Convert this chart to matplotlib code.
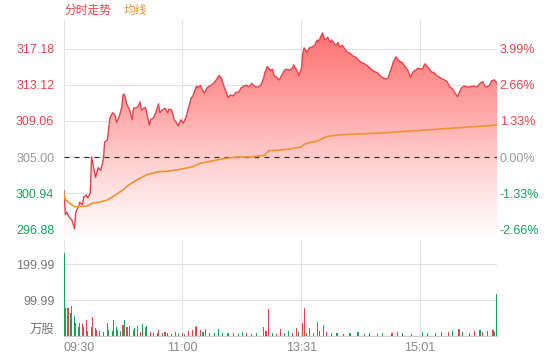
import numpy as np
import matplotlib
matplotlib.use("Agg")
import matplotlib.pyplot as plt

plt.rcParams['font.family'] = ['Liberation Sans', 'Noto Sans CJK SC']

# trading minutes since 09:30 (HK session, 330 minutes) and prices
price_t = [0, 1, 2, 4, 6, 8, 9, 11, 12, 14, 15, 17, 18, 20, 21, 23, 24, 26, 28, 30,
           31, 33, 35, 37, 39, 40, 42, 44, 45, 46, 48, 50, 52, 53, 56, 57, 58, 59, 62, 63,
           65, 66, 68, 70, 72, 73, 75, 77, 79, 80, 82, 84, 86, 87, 89, 91, 93, 95, 97, 98,
           101, 102, 104, 105, 107, 109, 111, 114, 117, 118, 120, 122, 124, 125, 127, 129, 131, 133, 135, 136,
           139, 141, 143, 146, 148, 150, 152, 153, 155, 157, 159, 160, 162, 164, 166, 168, 170, 172, 174, 175,
           178, 179, 181, 182, 183, 185, 187, 189, 191, 193, 194, 197, 198, 199, 201, 203, 204, 207, 209, 210,
           212, 214, 216, 218, 220, 223, 226, 228, 232, 235, 237, 239, 242, 245, 247, 249, 251, 253, 255, 258,
           261, 262, 264, 266, 268, 270, 273, 275, 277, 280, 282, 284, 287, 290, 292, 294, 296, 298, 300, 301,
           303, 305, 307, 309, 312, 315, 317, 319, 321, 322, 324, 326, 328, 330]
price = [301.2, 298.5, 298.8, 298.2, 297.9, 296.9, 298.8, 299.4, 299.9, 299.6, 300.5, 300.7, 300.4, 300.9, 305.0, 303.5, 302.7, 303.8, 303.5, 304.7,
         306.7, 306.9, 309.4, 310.0, 309.7, 308.9, 309.5, 310.6, 312.0, 312.1, 310.9, 310.3, 309.2, 310.5, 310.6, 310.9, 311.2, 310.3, 310.6, 310.0,
         308.6, 309.2, 309.4, 310.0, 311.0, 310.0, 310.3, 310.5, 310.0, 310.4, 310.3, 309.2, 308.8, 308.5, 309.2, 308.8, 309.5, 310.6, 311.7, 311.8,
         313.0, 312.8, 313.1, 312.7, 312.2, 312.8, 313.0, 313.3, 313.9, 314.2, 313.9, 312.9, 312.2, 311.7, 312.0, 311.9, 312.3, 312.3, 312.8, 312.9,
         313.1, 312.9, 313.3, 312.9, 312.9, 313.1, 313.8, 314.5, 315.2, 314.8, 314.9, 314.2, 314.0, 313.7, 314.2, 314.8, 314.9, 314.8, 315.0, 315.4,
         314.6, 314.2, 315.0, 316.7, 317.3, 316.8, 317.3, 317.4, 317.6, 318.2, 318.0, 319.0, 318.5, 318.2, 318.5, 317.9, 318.2, 317.6, 317.9, 317.4,
         317.6, 317.2, 316.8, 316.7, 316.4, 316.2, 315.7, 315.6, 315.2, 314.8, 314.6, 314.5, 314.0, 313.8, 313.9, 314.8, 315.7, 316.3, 315.9, 315.6,
         315.0, 314.8, 314.0, 314.6, 314.8, 315.0, 314.9, 315.5, 315.2, 314.6, 314.5, 314.2, 313.9, 313.7, 313.5, 312.9, 312.7, 312.2, 311.8, 312.2,
         312.8, 313.0, 312.9, 312.9, 313.0, 312.9, 313.3, 313.5, 312.9, 312.9, 313.0, 313.6, 313.7, 313.3]

avg_t = [0, 1, 5, 8, 12, 18, 22, 27, 33, 37, 41, 45, 49, 53, 58, 63, 71, 79, 88, 98,
         104, 111, 121, 132, 142, 153, 156, 165, 172, 180, 184, 193, 200, 210, 226, 241, 271, 330]
avg = [300.9, 300.2, 299.7, 299.4, 299.4, 299.5, 299.8, 299.9, 300.15, 300.5, 300.9, 301.3, 301.8, 302.2, 302.6, 303.0, 303.3, 303.4, 303.6, 303.9,
       304.3, 304.5, 304.8, 305.0, 305.0, 305.2, 305.7, 305.8, 305.9, 306.1, 306.5, 306.8, 307.3, 307.5, 307.6, 307.7, 308.0, 308.6]

# volume in 万股, 1 = up (red), 0 = down (green)
vol_t = [0, 1, 3, 5, 6, 8, 9, 11, 12, 14, 15, 17, 18, 21, 22, 24, 25, 27, 30, 33,
         34, 37, 38, 40, 41, 43, 45, 46, 48, 50, 53, 54, 56, 58, 60, 62, 63, 66, 68, 71,
         72, 75, 77, 79, 82, 85, 87, 90, 92, 95, 98, 100, 101, 104, 106, 108, 111, 115, 118, 121,
         125, 129, 133, 136, 139, 143, 147, 152, 154, 156, 159, 162, 165, 168, 171, 174, 177, 179, 182, 183,
         185, 187, 190, 193, 195, 198, 200, 204, 208, 213, 218, 224, 229, 233, 239, 243, 250, 254, 258, 265,
         273, 277, 283, 288, 293, 296, 301, 304, 309, 313, 317, 319, 323, 327, 328, 330]
vol = [230, 78, 78, 64, 83, 56, 36, 26, 37, 33, 24, 44, 15, 24, 52, 21, 17, 15, 12, 35,
       18, 15, 44, 24, 17, 15, 31, 44, 24, 28, 17, 21, 28, 12, 33, 24, 28, 12, 9, 7,
       17, 7, 12, 7, 5, 12, 5, 7, 5, 15, 17, 24, 28, 17, 12, 19, 9, 7, 19, 7,
       9, 7, 5, 12, 7, 5, 7, 26, 15, 74, 7, 5, 19, 7, 15, 7, 21, 12, 35, 77,
       9, 21, 7, 40, 15, 31, 12, 7, 9, 5, 7, 11, 5, 7, 5, 7, 9, 12, 7, 5,
       12, 9, 9, 12, 12, 15, 19, 12, 9, 15, 17, 12, 15, 17, 12, 117]
vol_up = [0, 0, 1, 0, 0, 0, 1, 0, 1, 1, 0, 1, 0, 1, 1, 0, 1, 1, 0, 1,
          0, 0, 1, 0, 1, 0, 1, 0, 1, 0, 1, 0, 1, 1, 0, 0, 0, 1, 0, 1,
          1, 0, 1, 0, 1, 1, 0, 1, 0, 1, 1, 1, 1, 1, 0, 0, 1, 0, 0, 0,
          0, 1, 0, 0, 1, 1, 0, 1, 1, 1, 0, 1, 1, 0, 0, 1, 1, 0, 1, 1,
          0, 1, 0, 1, 0, 0, 1, 0, 0, 1, 0, 0, 1, 0, 1, 0, 1, 1, 0, 1,
          0, 1, 0, 0, 1, 0, 1, 0, 1, 1, 0, 1, 1, 1, 0, 0]

prev_close = 305.00
price_ticks = [296.88, 300.94, 305.00, 309.06, 313.12, 317.18]
pct_labels = ['-2.66%', '-1.33%', '0.00%', '1.33%', '2.66%', '3.99%']
vol_ticks = [0, 99.99, 199.99]
vol_labels = ['万股', '99.99', '199.99']
time_ticks = [0, 90, 181, 271, 330]
time_labels = ['09:30', '11:00', '13:31', '15:01', '']

RED = '#e8434d'
GREEN = '#17a35a'
GRAY = '#999999'
ORANGE = '#f5922f'
GRID = '#e2e2e2'

fig = plt.figure(figsize=(5.6, 3.6), dpi=100)
ax = fig.add_axes([64 / 560, 120 / 360, 433 / 560, 220 / 360])
axv = fig.add_axes([64 / 560, 24 / 360, 433 / 560, 96 / 360], sharex=ax)

ylo, yhi = 295.64, 320.45
ax.set_ylim(ylo, yhi)
ax.set_xlim(0, 330)

# gradient fill under the price line
grad = np.linspace(0, 1, 256).reshape(-1, 1)
cmap = matplotlib.colors.LinearSegmentedColormap.from_list('g', ['#ffffff', '#ffd3d3', '#ff9a9a', '#ff6a6a'])
im = ax.imshow(grad, extent=[0, 330, ylo, yhi], origin='lower', aspect='auto', cmap=cmap, zorder=1)
poly = ax.fill_between(price_t, price, ylo, color='none', lw=0)
im.set_clip_path(poly.get_paths()[0], transform=ax.transData)

ax.plot(price_t, price, color=RED, lw=1.0, zorder=3)
ax.plot(avg_t, avg, color=ORANGE, lw=1.2, zorder=3)
ax.axhline(prev_close, color='#333333', lw=0.9, ls=(0, (4, 4)), zorder=2)

ax.set_yticks(price_ticks)
ax.set_yticklabels([f'{v:.2f}' for v in price_ticks])
for lbl, v in zip(ax.get_yticklabels(), price_ticks):
    lbl.set_color(RED if v > prev_close else (GREEN if v < prev_close else GRAY))
ax.tick_params(axis='y', length=0, pad=7, labelsize=9)
ax.tick_params(axis='x', length=0, labelbottom=False)
ax.set_xticks(time_ticks)
ax.grid(True, color=GRID, lw=0.8)
ax.set_axisbelow(True)
for s in ax.spines.values():
    s.set_visible(False)

ax2 = ax.twinx()
ax2.set_ylim(ylo, yhi)
ax2.set_yticks(price_ticks)
ax2.set_yticklabels(pct_labels)
for lbl, v in zip(ax2.get_yticklabels(), price_ticks):
    lbl.set_color(RED if v > prev_close else (GREEN if v < prev_close else GRAY))
ax2.tick_params(axis='y', length=0, pad=2, labelsize=9)
for s in ax2.spines.values():
    s.set_visible(False)

# volume bars
colors = [RED if u else GREEN for u in vol_up]
axv.bar(vol_t, vol, width=0.9, color=colors, zorder=3)
axv.set_ylim(0, 266.7)
axv.set_yticks(vol_ticks)
axv.set_yticklabels(vol_labels)
axv.get_yticklabels()[0].set_va('bottom')
axv.tick_params(axis='y', length=0, pad=7, labelsize=9, labelcolor='#777777')
axv.set_xticks(time_ticks)
axv.set_xticklabels(time_labels)
axv.get_xticklabels()[0].set_ha('left')
axv.tick_params(axis='x', length=0, pad=4, labelsize=9, labelcolor='#888888')
axv.grid(True, color=GRID, lw=0.8)
axv.set_axisbelow(True)
for s in axv.spines.values():
    s.set_visible(False)
axv.spines['bottom'].set_visible(True)
axv.spines['bottom'].set_color('#cccccc')

fig.text(64 / 560, 1 - 11 / 360, '分时走势', color=RED, fontsize=8.5, va='center')
fig.text(124 / 560, 1 - 11 / 360, '均线', color=ORANGE, fontsize=8.5, va='center')

fig.savefig('out.png', dpi=100)
